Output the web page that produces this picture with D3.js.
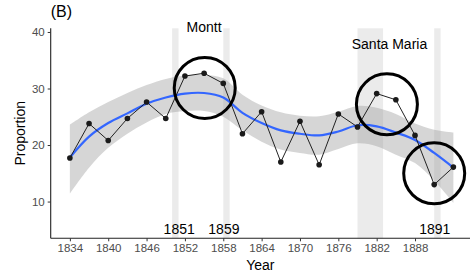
<!DOCTYPE html>
<html>
<head>
<meta charset="utf-8">
<script src="https://cdn.jsdelivr.net/npm/d3@7"></script>
<style>
  html, body { margin: 0; padding: 0; background: #fff; }
  svg { display: block; font-family: "Liberation Sans", Arial, sans-serif; }
</style>
</head>
<body>
<svg id="chart" width="471" height="277"></svg>
<script>
// ---- data ----
const years = [1834,1837,1840,1843,1846,1849,1852,1855,1858,1861,1864,1867,1870,1873,1876,1879,1882,1885,1888,1891,1894];
const proportion = [17.7,23.8,20.8,24.7,27.6,24.7,32.2,32.7,30.9,22.0,25.9,17.0,24.2,16.5,25.5,23.2,29.1,28.0,21.7,13.0,16.1];
const smoothFit = [17.8,21.5,23.9,25.6,27.3,28.4,29.1,29.2,28.4,25.7,23.9,22.6,22.0,21.7,22.4,23.5,23.3,22.2,20.9,18.6,16.0];
const smoothLow = [11.4,16.0,19.5,22.0,24.0,25.5,26.0,26.0,25.0,22.6,20.6,19.2,18.6,18.3,19.3,20.3,19.8,18.3,16.8,13.7,9.8];
const smoothHigh = [23.6,25.8,27.6,29.2,30.6,31.7,32.3,32.4,31.8,28.9,27.0,25.8,25.2,25.1,25.9,26.9,26.6,25.5,23.8,22.7,22.2];
const xTicks = [1834,1840,1846,1852,1858,1864,1870,1876,1882,1888];
const yTicks = [10,20,30,40];
const periodStart = [1850,1858,1879,1891];
const periodEnd = [1851,1859,1883,1892];
const yearLabels = ["1851","1859","1891"];
const yearLabelX = [1851.1,1858.1,1891.1];
const nameLabels = ["Montt","Santa Maria"];
const nameLabelX = [1855.0,1884.0];
const nameLabelY = [40.0,37.0];
const circleX = [1855.1,1883.6,1891.0];
const circleY = [30.1,27.2,15.0];

// ---- layout ----
const svg = d3.select("#chart");
const pL = 50.7, pR = 470, pT = 28.3, pB = 238.3;
const x = d3.scaleLinear().domain([1831, 1896.6]).range([pL, pR]);
const y = d3.scaleLinear().domain([3.5, 40.65]).range([pB, pT]);

// period bars
svg.append("g").selectAll("rect").data(periodStart).join("rect")
  .attr("x", (d,i) => x(d))
  .attr("width", (d,i) => x(periodEnd[i]) - x(d))
  .attr("y", pT)
  .attr("height", pB - pT)
  .attr("fill", "#bdbdbd").attr("fill-opacity", 0.3);

// smooth band
const pts = years.map((yr,i) => ({yr, fit: smoothFit[i], lo: smoothLow[i], hi: smoothHigh[i], v: proportion[i]}));
svg.append("path").datum(pts)
  .attr("d", d3.area().curve(d3.curveCatmullRom)
    .x(d => x(d.yr)).y0(d => y(d.lo)).y1(d => y(d.hi)))
  .attr("fill", "#999999").attr("fill-opacity", 0.4);

// smooth line
svg.append("path").datum(pts)
  .attr("d", d3.line().curve(d3.curveCatmullRom).x(d => x(d.yr)).y(d => y(d.fit)))
  .attr("fill", "none").attr("stroke", "#3366ff").attr("stroke-width", 2.2);

// data line and points
svg.append("path").datum(pts)
  .attr("d", d3.line().x(d => x(d.yr)).y(d => y(d.v)))
  .attr("fill", "none").attr("stroke", "#222").attr("stroke-width", 1);
svg.append("g").selectAll("circle").data(pts).join("circle")
  .attr("cx", d => x(d.yr)).attr("cy", d => y(d.v)).attr("r", 2.8)
  .attr("fill", "#1a1a1a");

// annotation circles
svg.append("g").selectAll("circle").data(circleX).join("circle")
  .attr("cx", d => x(d)).attr("cy", (d,i) => y(circleY[i])).attr("r", 30.5)
  .attr("fill", "none").attr("stroke", "#000").attr("stroke-width", 3);

// labels
svg.append("g").selectAll("text").data(nameLabels).join("text")
  .attr("x", (d,i) => x(nameLabelX[i])).attr("y", (d,i) => y(nameLabelY[i]))
  .attr("text-anchor", "middle").attr("font-size", 14).attr("fill", "#000")
  .text(d => d);
svg.append("g").selectAll("text").data(yearLabels).join("text")
  .attr("x", (d,i) => x(yearLabelX[i])).attr("y", y(3.5) - 4)
  .attr("text-anchor", "middle").attr("font-size", 14).attr("fill", "#000")
  .text(d => d);

// axes
const xAxis = svg.append("g").attr("transform", `translate(0,${pB})`)
  .call(d3.axisBottom(x).tickValues(xTicks).tickFormat(d3.format("d")).tickSize(3).tickPadding(3));
const yAxis = svg.append("g").attr("transform", `translate(${pL},0)`)
  .call(d3.axisLeft(y).tickValues(yTicks).tickSize(3).tickPadding(3));
[xAxis, yAxis].forEach(g => {
  g.select(".domain").attr("stroke", "#222").attr("stroke-width", 1.1);
  g.selectAll(".tick line").attr("stroke", "#333").attr("stroke-width", 1);
  g.selectAll(".tick text").attr("fill", "#4d4d4d").attr("font-size", 11.5)
    .attr("font-family", "Liberation Sans, Arial, sans-serif");
});
xAxis.select(".domain").attr("d", `M${pL},0H${pR}`);
yAxis.select(".domain").attr("d", `M0,${pT}V${pB}`);

svg.append("text").attr("x", (pL + pR) / 2).attr("y", 270)
  .attr("text-anchor", "middle").attr("font-size", 14).text("Year");
svg.append("text").attr("transform", `translate(25,${(pT + pB) / 2}) rotate(-90)`)
  .attr("text-anchor", "middle").attr("font-size", 14).text("Proportion");
svg.append("text").attr("x", pL).attr("y", 17).attr("font-size", 16).text("(B)");
</script>
</body>
</html>
